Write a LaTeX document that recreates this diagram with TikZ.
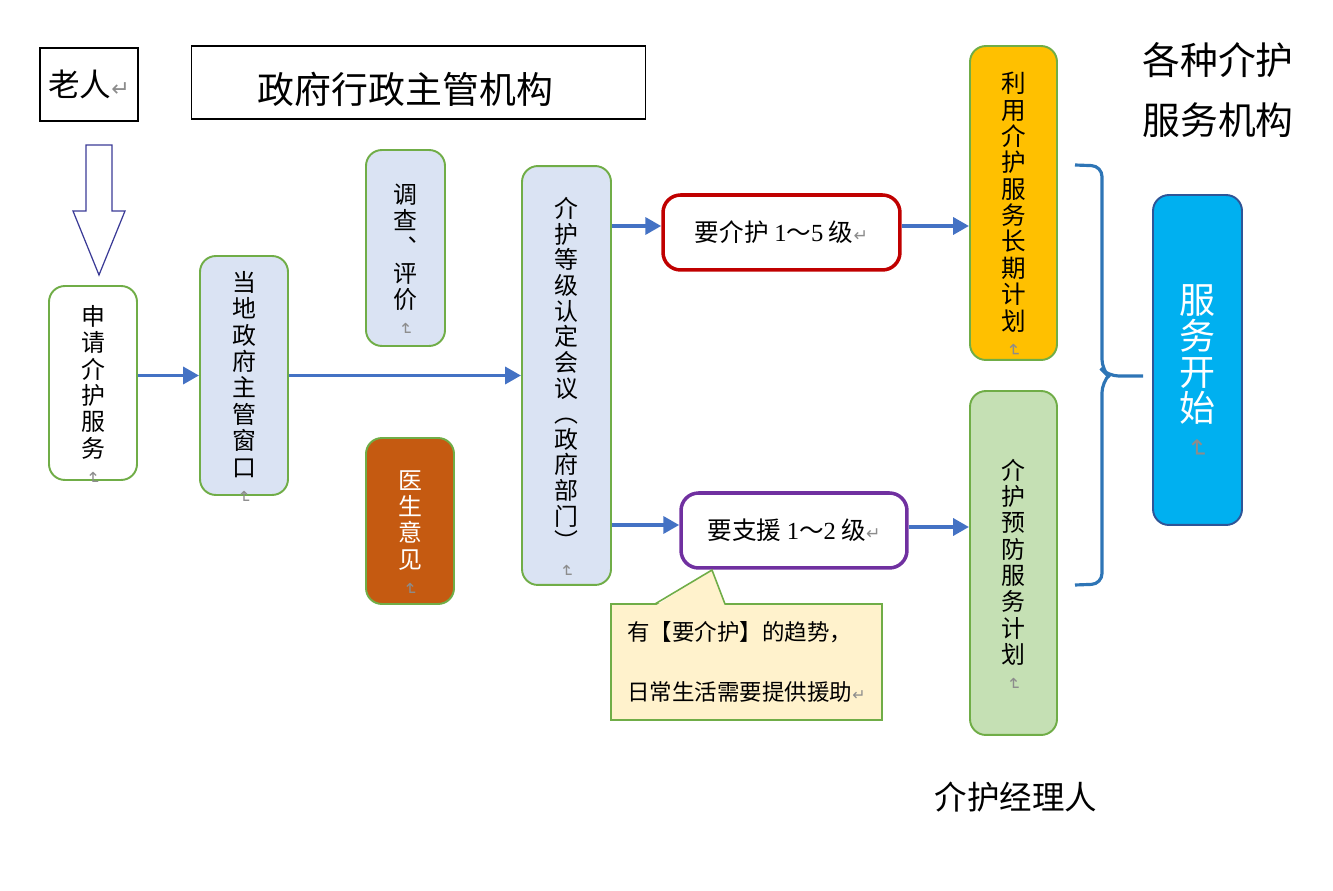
\documentclass[tikz,border=0pt]{standalone}
\usepackage{fontspec}
\setmainfont{Noto Sans CJK SC}
\newfontfamily\numfont{Liberation Serif}
\newfontfamily\markfont{DejaVu Sans}
\usetikzlibrary{arrows.meta}
\definecolor{boxgreen}{HTML}{70AD47}
\definecolor{paleblue}{HTML}{DAE3F3}
\definecolor{flowblue}{HTML}{4472C4}
\definecolor{carered}{HTML}{C00000}
\definecolor{supportpurple}{HTML}{7030A0}
\definecolor{doctorbrown}{HTML}{C55A11}
\definecolor{plangold}{HTML}{FFC000}
\definecolor{plangreen}{HTML}{C5E0B4}
\definecolor{startcyan}{HTML}{00B0F0}
\definecolor{startedge}{HTML}{2F5597}
\definecolor{hintyellow}{HTML}{FFF2CC}
\definecolor{braceblue}{HTML}{2E75B6}
\definecolor{hollowblue}{HTML}{3A3A96}
\definecolor{markgray}{HTML}{8C8C8C}
\newcommand{\pmark}{{\markfont\color{markgray}\scalebox{0.7}{↵}}}
\newcommand{\vmark}{\rotatebox[origin=c]{-90}{\pmark}}
\begin{document}
\begin{tikzpicture}[x=0.02cm,y=-0.02cm,
  vbox/.style={draw=boxgreen, fill=paleblue, line width=1.1pt, rounded corners=9pt, inner sep=0pt, minimum width=1.76cm},
  vtext/.style={align=center, inner sep=0pt, yshift=-7pt, font=\fontsize{13.6}{15}\selectfont},
  gradebox/.style={draw, fill=white, line width=2pt, rounded corners=10pt, minimum height=1.5cm, inner sep=0pt, font=\fontsize{14}{16}\selectfont},
  plainbox/.style={draw=black, line width=0.6pt, inner sep=0pt},
  flow/.style={draw=flowblue, line width=2.2pt, -{Triangle[length=9pt,width=9.5pt]}},
  brace/.style={draw=braceblue, line width=1.8pt, rounded corners=6pt},
]
\useasboundingbox (0,0) rectangle (1333,891);

% top row
\node[plainbox, minimum width=1.96cm, minimum height=1.46cm, font=\fontsize{18}{20}\selectfont] (old) at (89,84.5) {老人\pmark};
\node[plainbox, minimum width=9.1cm, minimum height=1.46cm,
  label={[font=\fontsize{21}{24}\selectfont, xshift=-0.26cm, yshift=-0.14cm]center:政府行政主管机构}] (gov) at (418.5,82.5) {};
\draw[hollowblue, line width=0.7pt] (86,145) -- (112,145) -- (112,211) -- (125,211) -- (99,275) -- (73,211) -- (86,211) -- cycle;

% application and survey
\node[vbox, fill=white, minimum height=3.88cm,
  label={[vtext]center:{申\\请\\介\\护\\服\\务\\\vmark}}] (apply) at (93,383) {};
\node[vbox, minimum height=4.78cm,
  label={[vtext]center:{当\\地\\政\\府\\主\\管\\窗\\口\\\vmark}}] (window) at (244,375.5) {};
\node[vbox, minimum width=1.58cm, minimum height=3.92cm,
  label={[vtext]center:{调\\查\\︑\\评\\价\\\vmark}}] (survey) at (405.5,248) {};
\node[vbox, fill=doctorbrown, minimum height=3.32cm,
  label={[vtext, text=white]center:{医\\生\\意\\见\\\vmark}}] (doctor) at (410,521) {};
\node[vbox, minimum width=1.78cm, minimum height=8.38cm,
  label={[vtext, font=\fontsize{13.6}{14.6}\selectfont]center:{介\\护\\等\\级\\认\\定\\会\\议\\︵\\政\\府\\部\\门\\︶\\\vmark}}] (meeting) at (566.5,375.5) {};

% grades
\node[gradebox, draw=carered, minimum width=4.74cm] (care) at (781.5,232.5) {要介护 {\numfont 1}～{\numfont 5} 级\pmark};
\node[gradebox, draw=supportpurple, minimum width=4.52cm] (support) at (794,530.5) {要支援 {\numfont 1}～{\numfont 2} 级\pmark};
\node[draw=boxgreen, line width=0.9pt, fill=hintyellow, minimum width=5.42cm, minimum height=2.32cm, inner sep=0pt, align=left, font=\fontsize{12.8}{34}\selectfont] (hint) at (746.5,662) {有【要介护】的趋势，\\日常生活需要提供援助\pmark};
\fill[hintyellow] (655,606) -- (712,570) -- (725,606) -- cycle;
\draw[boxgreen, line width=0.9pt] (655,604) -- (712,570) -- (725,604);

% plans
\node[vbox, fill=plangold, minimum width=1.74cm, minimum height=6.28cm,
  label={[vtext, font=\fontsize{14}{15}\selectfont]center:{利\\用\\介\\护\\服\\务\\长\\期\\计\\划\\\vmark}}] (longplan) at (1013.5,203) {};
\node[vbox, fill=plangreen, minimum width=1.74cm, minimum height=6.88cm,
  label={[vtext]center:{介\\护\\预\\防\\服\\务\\计\\划\\\vmark}}] (prevplan) at (1013.5,563) {};
\node[vbox, draw=startedge, fill=startcyan, minimum width=1.78cm, minimum height=6.6cm,
  label={[vtext, text=white, font=\fontsize{20.5}{20.5}\selectfont]center:{服\\务\\开\\始\\\vmark}}] (start) at (1197.5,360) {};

\node[align=center, font=\fontsize{21.5}{34}\selectfont] (agency) at (1218,90) {各种介护\\服务机构};
\node[font=\fontsize{18.5}{20}\selectfont] (manager) at (1016,797) {介护经理人};

% arrows
\draw[flow] (apply.east |- window.west) -- (window.west);
\draw[flow] (window.east) -- (meeting.west);
\draw[flow] (meeting.east |- 0,226) -- (care.west |- 0,226);
\draw[flow] (meeting.east |- 0,525) -- (support.west |- 0,525);
\draw[flow] (care.east |- 0,226) -- (longplan.west |- 0,226);
\draw[flow] (support.east |- 0,527) -- (prevplan.west |- 0,527);

% brace
\coordinate (bracetip) at (1143,376);
\draw[brace] (1075,165) -- (1102,166) -- (1102,370) -- (1108,376) -- (bracetip);
\draw[brace] (1108,376) -- (1102,382) -- (1102,584) -- (1075,585);
\end{tikzpicture}
\end{document}
